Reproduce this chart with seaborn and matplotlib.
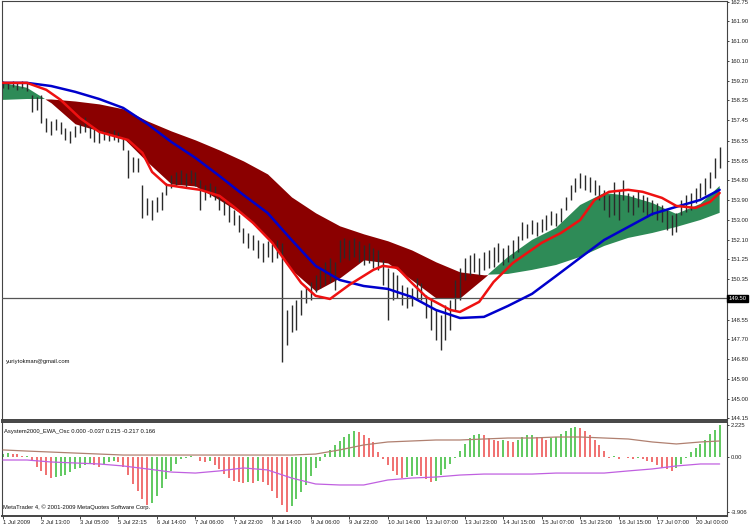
import numpy as np
import pandas as pd
import matplotlib
matplotlib.use("Agg")
import matplotlib.pyplot as plt
import seaborn as sns

# ---- price bars (one per bar, left to right) ----
HIGH = [159.22, 159.17, 159.22, 159.17, 159.22, 159.13, 158.59, 158.50, 158.59, 157.56,
        157.43, 157.52, 157.39, 157.12, 156.98, 157.21, 157.30, 157.61, 157.21, 157.07,
        156.98, 157.03, 156.98, 157.03, 156.94, 156.72, 156.13, 155.82, 155.78, 154.57,
        153.99, 153.90, 154.03, 154.26, 154.66, 155.02, 155.15, 155.24, 155.11, 155.24,
        155.15, 154.79, 154.57, 154.66, 154.52, 154.12, 153.90, 153.67, 153.45, 153.23,
        152.65, 152.42, 152.33, 152.11, 151.98, 152.07, 151.93, 152.11, 151.98, 148.98,
        149.20, 149.43, 149.88, 150.01, 150.23, 150.55, 150.86, 151.13, 151.31, 151.13,
        152.11, 152.20, 152.11, 152.20, 152.07, 151.89, 151.98, 151.75, 151.66, 151.22,
        150.86, 150.68, 150.55, 150.10, 150.01, 149.96, 150.41, 150.19, 149.65, 149.43,
        148.98, 148.76, 149.20, 149.43, 150.32, 150.86, 151.31, 151.44, 151.53, 151.31,
        151.57, 151.66, 151.80, 151.98, 151.75, 151.89, 152.11, 152.29, 152.92, 152.83,
        153.00, 152.92, 153.05, 153.23, 153.41, 153.32, 153.54, 154.03, 154.57, 154.88,
        155.11, 155.02, 154.93, 154.79, 154.57, 154.35, 154.12, 154.70, 154.35, 154.79,
        154.21, 154.12, 154.35, 154.12, 154.03, 153.90, 153.76, 153.67, 153.45, 153.23,
        153.32, 153.90, 154.12, 154.21, 154.44, 154.66, 154.88, 155.15, 155.78, 156.27]
LOW = [158.91, 158.86, 158.95, 158.82, 158.91, 158.77, 157.83, 157.92, 157.34, 156.94,
       156.80, 157.03, 156.85, 156.58, 156.45, 156.71, 156.89, 156.94, 156.67, 156.49,
       156.45, 156.58, 156.54, 156.58, 156.49, 156.13, 154.88, 155.15, 155.15, 153.09,
       153.23, 153.00, 153.36, 153.45, 154.12, 154.44, 154.52, 154.61, 154.48, 154.66,
       154.52, 153.45, 153.90, 154.03, 153.90, 153.45, 153.23, 152.92, 152.78, 152.47,
       151.98, 151.75, 151.66, 151.31, 151.13, 151.35, 151.13, 151.31, 146.66, 147.41,
       148.00, 148.09, 148.76, 149.30, 149.43, 149.79, 149.96, 150.10, 150.23, 149.88,
       151.13, 151.31, 151.22, 151.35, 151.13, 150.99, 151.08, 150.86, 150.77, 150.10,
       148.53, 149.43, 149.52, 149.20, 149.07, 149.16, 149.43, 149.43, 148.62, 148.09,
       147.64, 147.19, 147.64, 148.09, 148.98, 149.43, 150.32, 150.55, 150.68, 150.55,
       150.77, 150.86, 150.90, 151.13, 150.99, 151.13, 151.31, 151.57, 152.11, 152.20,
       152.38, 152.29, 152.47, 152.56, 152.78, 152.74, 152.92, 153.45, 153.90, 154.26,
       154.44, 154.35, 154.26, 154.12, 153.90, 153.45, 153.14, 153.23, 153.00, 153.90,
       153.36, 153.23, 153.59, 153.36, 153.14, 153.23, 153.00, 152.92, 152.56, 152.33,
       152.47, 153.23, 153.36, 153.45, 153.76, 153.99, 154.12, 154.44, 154.88, 155.33]

# ---- fast (red) average, read at its turning points ----
RED_IDX = [0, 5, 9, 12, 16, 20, 26, 29, 31, 34, 38, 41, 45, 48, 52, 56, 59, 62, 65, 68,
           72, 77, 79, 82, 85, 88, 93, 95, 99, 102, 106, 109, 112, 116, 120, 123, 126,
           130, 133, 137, 140, 144, 147, 149]
RED_MA = [159.13, 159.13, 158.82, 158.37, 157.56, 156.94, 156.58, 156.00, 155.15, 154.57,
          154.44, 154.35, 154.08, 153.59, 152.87, 151.98, 151.08, 150.19, 149.61, 149.47,
          150.10, 150.77, 150.95, 150.86, 150.19, 149.56, 148.98, 148.89, 149.34, 150.23,
          151.08, 151.53, 151.98, 152.42, 153.00, 153.90, 154.26, 154.35, 154.26, 153.99,
          153.63, 153.54, 153.81, 154.21]

# ---- slow (blue) average and band edges, read every 5 bars ----
LINE_IDX = [0, 5, 10, 15, 20, 25, 30, 35, 40, 45, 50, 55, 60, 65, 70, 75,
            80, 85, 90, 95, 100, 105, 110, 115, 120, 125, 130, 135, 140, 145, 149]
BLUE_MA = [159.13, 159.13, 158.99, 158.73, 158.41, 158.01, 157.30, 156.49, 155.78, 154.97,
           154.12, 153.32, 152.11, 150.95, 150.32, 150.05, 149.92, 149.56, 148.98, 148.62,
           148.67, 149.16, 149.70, 150.50, 151.31, 152.11, 152.69, 153.27, 153.59, 153.90, 154.35]
BAND_FAST = [159.13, 158.91, 158.24, 157.30, 156.98, 156.67, 155.60, 154.61, 154.52, 153.90,
             153.23, 152.20, 150.77, 149.83, 150.41, 151.22, 151.08, 150.32, 149.52, 149.52,
             150.41, 151.35, 152.11, 152.65, 153.67, 154.21, 154.08, 153.76, 153.27, 153.72, 154.52]
BAND_SLOW = [158.37, 158.41, 158.41, 158.32, 158.19, 157.97, 157.43, 156.98, 156.58, 156.13,
             155.64, 155.06, 154.03, 153.32, 152.74, 152.38, 152.07, 151.66, 151.13, 150.68,
             150.55, 150.59, 150.77, 150.99, 151.35, 151.84, 152.20, 152.42, 152.69, 153.00, 153.32]

# ---- oscillator window ----
OSC = [0.2, 0.25, 0.2, 0.15, 0.05, 0.05, -0.3, -0.7, -1.0, -1.3,
       -1.5, -1.45, -1.4, -1.3, -1.1, -0.9, -0.8, -0.6, -0.5, -0.6,
       -0.7, -0.5, -0.4, -0.3, -0.35, -0.7, -1.3, -1.9, -2.4, -3.0,
       -3.4, -3.3, -2.8, -2.2, -1.6, -1.0, -0.5, -0.2, -0.1, 0.05,
       -0.05, -0.3, -0.4, -0.3, -0.6, -0.9, -1.2, -1.5, -1.7, -1.8,
       -1.85, -1.8, -1.85, -1.75, -1.8, -2.0, -2.4, -2.9, -3.4, -3.9,
       -3.5, -3.0, -2.5, -2.0, -1.4, -0.8, -0.3, 0.2, 0.5, 0.8,
       1.1, 1.4, 1.6, 1.8, 1.7, 1.5, 1.3, 1.0, 0.3, -0.2,
       -0.6, -1.0, -1.3, -1.5, -1.45, -1.35, -1.3, -1.4, -1.6, -1.8,
       -1.7, -1.3, -0.9, -0.5, -0.1, 0.4, 0.9, 1.3, 1.5, 1.6,
       1.5, 1.3, 1.2, 1.1, 1.2, 1.1, 1.0, 1.2, 1.4, 1.5,
       1.5, 1.4, 1.3, 1.2, 1.3, 1.4, 1.6, 1.8, 2.0, 2.1,
       2.0, 1.8, 1.5, 1.2, 0.8, 0.4, -0.1, 0.05, -0.15, -0.05,
       -0.1, -0.2, -0.1, -0.2, -0.3, -0.4, -0.6, -0.8, -0.9, -1.0,
       -0.8, -0.5, -0.1, 0.3, 0.6, 0.9, 1.2, 1.6, 1.9, 2.2]
OSC_BROWN = [0.47, 0.39, 0.32, 0.25, 0.18, 0.11, 0.11, 0.11, 0.11, 0.11,
             0.11, 0.11, 0.11, 0.18, 0.47, 0.82, 1.03, 1.10, 1.17, 1.17,
             1.24, 1.31, 1.31, 1.38, 1.38, 1.31, 1.24, 1.03, 0.89, 1.03, 1.10]
OSC_PURPLE = [-0.24, -0.24, -0.38, -0.45, -0.52, -0.66, -0.87, -1.09, -1.16, -1.01,
              -0.80, -0.94, -1.51, -1.93, -2.00, -2.00, -1.65, -1.51, -1.44, -1.30,
              -1.23, -1.23, -1.23, -1.16, -1.16, -1.16, -1.01, -0.87, -0.66, -0.52, -0.52]

DATE_TICKS = [0, 8, 16, 24, 32, 40, 48, 56, 64, 72, 80, 88, 96, 104, 112, 120, 128, 136, 144]
DATE_LABELS = ["1 Jul 2009", "2 Jul 13:00", "3 Jul 05:00", "5 Jul 22:15", "6 Jul 14:00",
               "7 Jul 06:00", "7 Jul 22:00", "8 Jul 14:00", "9 Jul 06:00", "9 Jul 22:00",
               "10 Jul 14:00", "13 Jul 07:00", "13 Jul 23:00", "14 Jul 15:00", "15 Jul 07:00",
               "15 Jul 23:00", "16 Jul 15:00", "17 Jul 07:00", "20 Jul 00:00"]
PRICE_TICKS = [162.75, 161.90, 161.00, 160.10, 159.20, 158.35, 157.45, 156.55, 155.65,
               154.80, 153.90, 153.00, 152.10, 151.25, 150.35, 148.55, 147.70, 146.80,
               145.90, 145.00, 144.15]
HLINE = 149.50
OSC_TICKS = [2.225, 0.0, -3.906]
OSC_TICK_LABELS = ["2.225", "0.00", "-3.906"]

sns.set_style("white")
plt.rcParams["font.family"] = ["Liberation Sans", "DejaVu Sans"]
FS = 4.2

bars = pd.DataFrame({"i": np.arange(len(HIGH)), "high": HIGH, "low": LOW, "osc": OSC})
lines = pd.DataFrame({"i": LINE_IDX, "blue": BLUE_MA, "fast": BAND_FAST, "slow": BAND_SLOW,
                      "brown": OSC_BROWN, "purple": OSC_PURPLE})
red = pd.DataFrame({"i": RED_IDX, "red": RED_MA})

W, H = 750, 527
YLO, YHI = 144.06, 162.79
fig = plt.figure(figsize=(W / 100, H / 100), dpi=100)
ax = fig.add_axes([2 / W, 1 - 420 / H, 725 / W, 419 / H])
ax2 = fig.add_axes([2 / W, 1 - 516 / H, 725 / W, 94 / H], sharex=ax)

# band between the two averages
ax.fill_between(lines["i"], lines["fast"], lines["slow"], where=lines["fast"] >= lines["slow"],
                interpolate=True, color="#2e8b57", lw=0, zorder=1)
ax.fill_between(lines["i"], lines["fast"], lines["slow"], where=lines["fast"] < lines["slow"],
                interpolate=True, color="#8b0000", lw=0, zorder=1)

ax.vlines(bars["i"], bars["low"], bars["high"], color="#2a2a2a", lw=1.0, zorder=2)

sns.lineplot(data=lines, x="i", y="blue", color="#0000cc", lw=1.8, ax=ax, zorder=4)
sns.lineplot(data=red, x="i", y="red", color="#ee1111", lw=1.8, ax=ax, zorder=4)

ax.axhline(HLINE, color="#555555", lw=0.9, zorder=3)
ax.set_xlim(-0.2, 150.53)
ax.set_ylim(YLO, YHI)
ax.yaxis.tick_right()
ax.set_yticks(PRICE_TICKS)
ax.set_yticklabels([f"{v:.2f}" for v in PRICE_TICKS])
ax.tick_params(axis="y", direction="out", length=1.6, width=0.6, pad=1,
               labelsize=FS, colors="#222222", right=True, left=False)
ax.tick_params(axis="x", bottom=False, labelbottom=False)
ax.set_xlabel(""); ax.set_ylabel("")
ax.text(1.002, (HLINE - YLO) / (YHI - YLO), f"{HLINE:.2f}", transform=ax.transAxes,
        fontsize=FS, color="white", va="center", ha="left",
        bbox=dict(boxstyle="square,pad=0.2", fc="black", ec="black"))
ax.text(0.006, 1 - (362 - 1) / 419, "yuriytokman@gmail.com", transform=ax.transAxes,
        fontsize=FS, va="center", ha="left", color="#111111")

# oscillator histogram: green while rising, red while falling
prev = np.r_[OSC[0], OSC[:-1]]
cols = np.where(np.array(OSC) >= prev, "#5fc95f", "#f07070")
ax2.vlines(bars["i"], 0, bars["osc"], colors=cols, lw=1.4, zorder=2)
sns.lineplot(data=lines, x="i", y="brown", color="#b08070", lw=0.9, ax=ax2, zorder=3)
sns.lineplot(data=lines, x="i", y="purple", color="#c060e0", lw=0.9, ax=ax2, zorder=3)
ax2.set_ylim(-4.186, 2.438)
ax2.yaxis.tick_right()
ax2.set_yticks(OSC_TICKS)
ax2.set_yticklabels(OSC_TICK_LABELS)
ax2.tick_params(axis="y", direction="out", length=1.6, width=0.6, pad=1,
                labelsize=FS, colors="#222222", right=True, left=False)
ax2.set_xticks(DATE_TICKS)
ax2.set_xticklabels(DATE_LABELS)
ax2.tick_params(axis="x", direction="out", length=2, width=0.6, pad=1,
                labelsize=FS, colors="#222222", bottom=True)
for lab in ax2.get_xticklabels():
    lab.set_horizontalalignment("left")
ax2.set_xlabel(""); ax2.set_ylabel("")
ax2.text(0.003, 0.93, "Asystem2000_EWA_Osc 0.000 -0.037 0.215 -0.217 0.166",
         transform=ax2.transAxes, fontsize=FS, va="top", ha="left", color="#111111")
ax2.text(0.002, 0.06, "MetaTrader 4, \u00a9 2001-2009 MetaQuotes Software Corp.",
         transform=ax2.transAxes, fontsize=FS, va="bottom", ha="left", color="#111111")

for a in (ax, ax2):
    for sp in a.spines.values():
        sp.set_color("#444444")
        sp.set_linewidth(0.8)
    a.spines["bottom"].set_linewidth(1.4)
    a.set_facecolor("white")
ax2.spines["top"].set_linewidth(1.4)

fig.savefig("out.png", dpi=100, facecolor="white")
